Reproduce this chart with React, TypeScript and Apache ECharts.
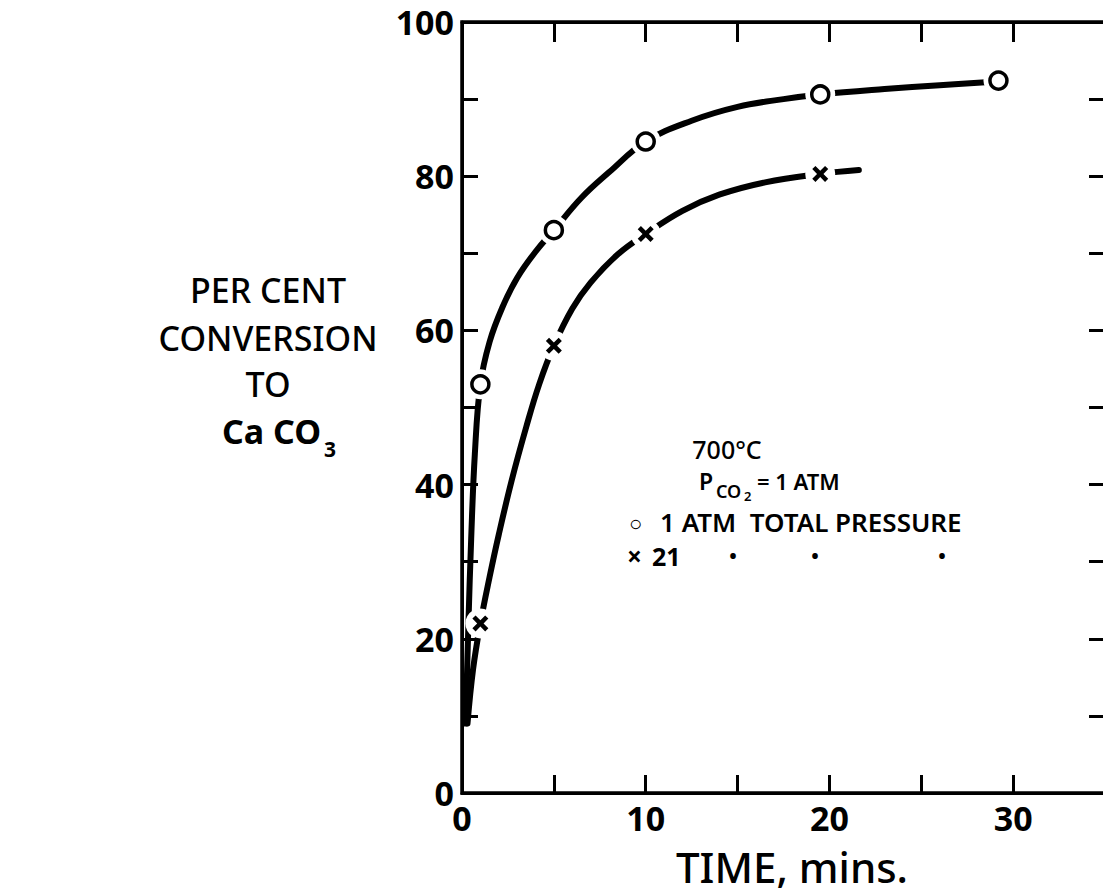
import React, { useEffect, useRef } from "react";
import * as echarts from "echarts";

// Measured points (time in minutes, % conversion)
const circlePoints: [number, number][] = [
  [1, 53], [5, 73], [10, 84.5], [19.5, 90.6], [29.2, 92.4],
];
const crossPoints: [number, number][] = [
  [1, 22], [5, 58], [10, 72.5], [19.5, 80.3],
];

// Hand-drawn fitted curves through the points
const circleCurve: [number, number][] = [
  [0.2, 9], [0.35, 22], [0.5, 33], [0.7, 44], [1, 53], [1.5, 58.5],
  [2.2, 63], [3, 66.8], [4, 70.2], [5, 73], [6.5, 77.2], [8, 80.5],
  [10, 84.5], [12.5, 87.2], [15, 89], [17.5, 90], [19.5, 90.6],
  [23, 91.3], [26, 91.8], [28.5, 92.2],
];
const crossCurve: [number, number][] = [
  [0.3, 9], [0.6, 16], [1, 22], [1.5, 28], [2, 33.5], [2.7, 40.5],
  [3.5, 47.5], [4.2, 53], [5, 58], [6, 62.8], [7, 66.2], [8.5, 69.9],
  [10, 72.5], [12, 75.5], [14, 77.6], [16.5, 79.2], [19.5, 80.3],
  [21.6, 80.8],
];

const xTickLabels = ["0", "10", "20", "30"];
const yTickLabels = ["0", "20", "40", "60", "80", "100"];

const yTitleLines = ["PER CENT", "CONVERSION", "TO"];

const INK = "#000000";
const FONT = "Noto Sans";

// plot box in pixels
const W = 1111;
const H = 896;
const G = { left: 462, right: 6, top: 22, bottom: 103 };

const txt = (
  x: number,
  y: number,
  text: string,
  size: number,
  weight: number | string,
  extra: Record<string, unknown> = {}
) => ({
  type: "text",
  x,
  y,
  z: 20,
  style: {
    text,
    fill: INK,
    font: `${weight} ${size}px "${FONT}"`,
    lineHeight: size,
    verticalAlign: "middle",
    ...extra,
  },
});

export default function App() {
  const ref = useRef<HTMLDivElement>(null);

  useEffect(() => {
    if (!ref.current) return;
    const chart = echarts.init(ref.current, null, { renderer: "svg" });

    const axisLine = () => ({ show: true, onZero: false, lineStyle: { color: INK, width: 3 } });
    const tick = (length: number) => ({
      show: true,
      inside: true,
      length,
      lineStyle: { color: INK, width: 3 },
    });

    chart.setOption({
      animation: false,
      backgroundColor: "#ffffff",
      grid: { ...G, outerBoundsMode: "none" },
      xAxis: [
        {
          type: "value",
          min: 0,
          max: 35,
          interval: 5,
          position: "bottom",
          axisLine: axisLine(),
          splitLine: { show: false },
          axisTick: tick(18),
          axisLabel: {
            color: INK,
            fontFamily: FONT,
            fontWeight: "bold",
            fontSize: 34,
            margin: 8,
            formatter: (v: number) => (xTickLabels.includes(String(v)) ? String(v) : ""),
          },
        },
        {
          type: "value",
          min: 0,
          max: 35,
          interval: 5,
          position: "top",
          axisLine: axisLine(),
          splitLine: { show: false },
          axisTick: tick(20),
          axisLabel: { formatter: () => "" },
        },
      ],
      yAxis: [
        {
          type: "value",
          min: 0,
          max: 100,
          interval: 10,
          position: "left",
          axisLine: axisLine(),
          splitLine: { show: false },
          axisTick: tick(16),
          axisLabel: {
            color: INK,
            fontFamily: FONT,
            fontWeight: "bold",
            fontSize: 34,
            margin: 8,
            formatter: (v: number) => (yTickLabels.includes(String(v)) ? String(v) : ""),
          },
        },
        {
          type: "value",
          min: 0,
          max: 100,
          interval: 10,
          position: "right",
          axisLine: axisLine(),
          splitLine: { show: false },
          axisTick: tick(16),
          axisLabel: { formatter: () => "" },
        },
      ],
      series: [
        {
          type: "line",
          data: circleCurve,
          smooth: 0.4,
          showSymbol: false,
          lineStyle: { color: INK, width: 6, cap: "round" },
          z: 1,
        },
        {
          type: "line",
          data: crossCurve,
          smooth: 0.4,
          showSymbol: false,
          lineStyle: { color: INK, width: 6, cap: "round" },
          z: 1,
        },
        {
          // white halo breaking the curves around each marker
          type: "scatter",
          data: [...circlePoints, ...crossPoints],
          symbol: "circle",
          symbolSize: 30,
          itemStyle: { color: "#ffffff", opacity: 1 },
          silent: true,
          z: 2,
        },
        {
          type: "scatter",
          name: "1 ATM TOTAL PRESSURE",
          data: circlePoints,
          symbol: "circle",
          symbolSize: 17,
          itemStyle: { color: "#ffffff", borderColor: INK, borderWidth: 3.5, opacity: 1 },
          z: 3,
        },
        {
          type: "scatter",
          name: "21 ATM TOTAL PRESSURE",
          data: crossPoints,
          symbol:
            "path://M0,2 L2,0 L5,3 L8,0 L10,2 L7,5 L10,8 L8,10 L5,7 L2,10 L0,8 L3,5 Z",
          symbolSize: 16,
          itemStyle: { color: INK, opacity: 1 },
          z: 3,
        },
      ],
      graphic: [
        // plot frame
        {
          type: "rect",
          z: 100,
          silent: true,
          shape: {
            x: G.left,
            y: G.top,
            width: W - G.right - G.left,
            height: H - G.bottom - G.top,
          },
          style: { fill: "none", stroke: INK, lineWidth: 3.5 },
        },
        // y-axis title
        ...yTitleLines.map((t, i) =>
          txt(268, [290, 338, 384][i], t, 34, 500, { align: "center", lineHeight: 36 })
        ),
        txt(222, 431, "Ca CO", 34, "bold", { lineHeight: 30 }),
        txt(324, 449, "3", 21, "bold", { lineHeight: 16 }),
        // x-axis title
        txt(792, 866, "TIME, mins.", 42, 500, { align: "center", lineHeight: 40 }),
        // legend block
        txt(727, 449, "700°C", 25, 500, { align: "center", lineHeight: 20 }),
        txt(699, 481, "P", 23, 600, { lineHeight: 18 }),
        txt(716, 491, "CO", 18, 600, { lineHeight: 12 }),
        txt(744, 496, "2", 13, 600, { lineHeight: 6 }),
        txt(757, 481, "= 1 ATM", 22, 600, { lineHeight: 18 }),
        txt(629, 522, "○", 22, "bold", { lineHeight: 16 }),
        txt(660, 522, "1 ATM  TOTAL PRESSURE", 26, 600, { lineHeight: 18 }),
        txt(627, 556, "×", 26, "bold", { lineHeight: 16 }),
        txt(652, 556, "21", 25, "bold", { lineHeight: 18 }),
        ...[733, 815, 942].map((x) =>
          txt(x, 555, "•", 20, "bold", { align: "center", lineHeight: 10 })
        ),
      ],
    });

    return () => chart.dispose();
  }, []);

  return <div ref={ref} style={{ width: W, height: H, margin: -8 }} />;
}
